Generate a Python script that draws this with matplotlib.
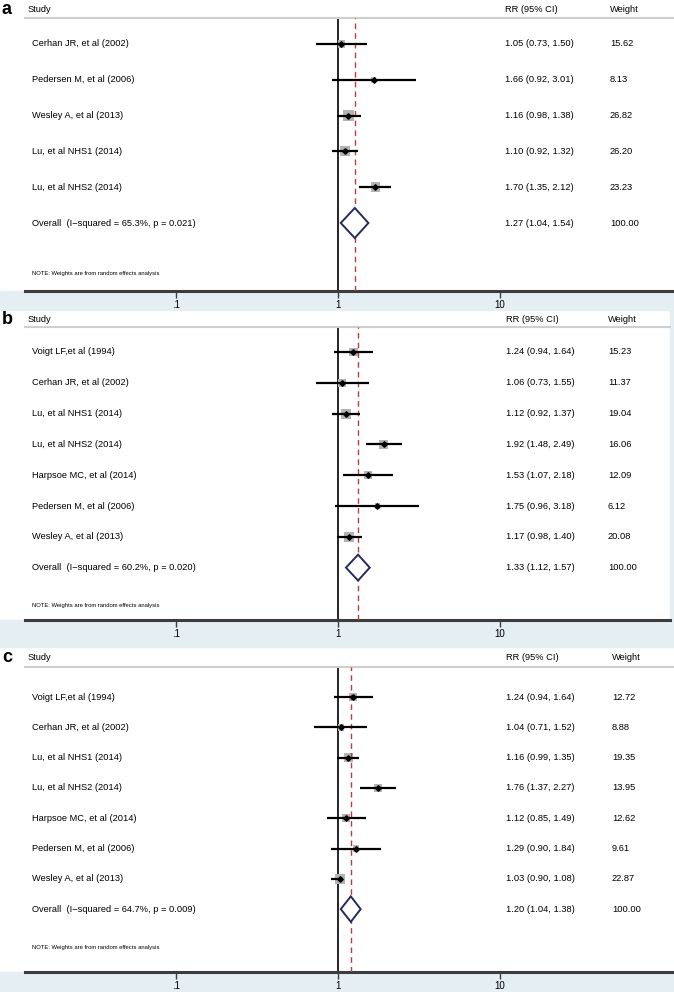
import numpy as np
import matplotlib
matplotlib.use("Agg")
import matplotlib.pyplot as plt
from matplotlib.patches import Rectangle, Polygon

plt.rcParams['font.family'] = ['Liberation Sans', 'DejaVu Sans']

# ---- data ----
studies_a = ["Cerhan JR, et al (2002)", "Pedersen M, et al (2006)", "Wesley A, et al (2013)",
             "Lu, et al NHS1 (2014)", "Lu, et al NHS2 (2014)"]
rr_a = [1.05, 1.66, 1.16, 1.10, 1.70]
lo_a = [0.73, 0.92, 0.98, 0.92, 1.35]
hi_a = [1.50, 3.01, 1.38, 1.32, 2.12]
w_a = [15.62, 8.13, 26.82, 26.20, 23.23]
overall_a = [1.27, 1.04, 1.54]
het_a = "Overall  (I\u2212squared = 65.3%, p = 0.021)"

studies_bc = ["Voigt LF,et al (1994)", "Cerhan JR, et al (2002)", "Lu, et al NHS1 (2014)",
              "Lu, et al NHS2 (2014)", "Harpsoe MC, et al (2014)", "Pedersen M, et al (2006)",
              "Wesley A, et al (2013)"]
rr_b = [1.24, 1.06, 1.12, 1.92, 1.53, 1.75, 1.17]
lo_b = [0.94, 0.73, 0.92, 1.48, 1.07, 0.96, 0.98]
hi_b = [1.64, 1.55, 1.37, 2.49, 2.18, 3.18, 1.40]
w_b = [15.23, 11.37, 19.04, 16.06, 12.09, 6.12, 20.08]
overall_b = [1.33, 1.12, 1.57]
het_b = "Overall  (I\u2212squared = 60.2%, p = 0.020)"

rr_c = [1.24, 1.04, 1.16, 1.76, 1.12, 1.29, 1.03]
lo_c = [0.94, 0.71, 0.99, 1.37, 0.85, 0.90, 0.90]
hi_c = [1.64, 1.52, 1.35, 2.27, 1.49, 1.84, 1.08]
w_c = [12.72, 8.88, 19.35, 13.95, 12.62, 9.61, 22.87]
overall_c = [1.20, 1.04, 1.38]
het_c = "Overall  (I\u2212squared = 64.7%, p = 0.009)"

tick_vals = [0.1, 1, 10]
tick_labels = [".1", "1", "10"]

W, H = 674, 992
BAND = '#e4eef3'
fig = plt.figure(figsize=(W / 100, H / 100), dpi=100)

# pixel helpers
fx = lambda x: x / W
fy = lambda y: 1 - y / H

X0 = 25               # left end of the axis, px
XONE, DEC = 338, 162  # px of RR=1, px per decade


def panel(letter, studies, rr, lo, hi, w, overall, het, lay):
    head, top, row0, step, note_y, axis_y, band_end, right, rrx, wx = lay
    n = len(studies)
    rows = row0 + step * np.arange(n + 1)

    fig.patches.append(Rectangle((fx(0), fy(band_end)), 1, (band_end - axis_y) / H,
                                 transform=fig.transFigure, color=BAND, zorder=-1))
    ax = fig.add_axes([fx(X0), fy(axis_y), (right - X0) / W, (axis_y - top) / H])
    ax.set_facecolor('none')
    ax.set_xscale('log')
    ax.set_xlim(10 ** ((X0 - XONE) / DEC), 10 ** ((right - XONE) / DEC))
    ax.set_ylim(axis_y, top)
    for s in ['left', 'right']:
        ax.spines[s].set_visible(False)
    ax.spines['top'].set_color('#cfcfcf')
    ax.spines['top'].set_linewidth(1.5)
    ax.spines['bottom'].set_color('#3c3c3c')
    ax.spines['bottom'].set_linewidth(2.2)
    ax.set_yticks([])
    ax.set_xticks(tick_vals)
    ax.set_xticklabels(tick_labels)
    ax.xaxis.set_minor_locator(matplotlib.ticker.NullLocator())
    ax.tick_params(axis='x', direction='out', length=5, width=1, color='#3c3c3c',
                   labelsize=7, pad=1.5)

    ax.axvline(1, color='black', lw=1.2, zorder=2)
    ax.axvline(overall[0], color='#b5403a', lw=1, ls=(0, (4, 3)), zorder=4)

    sq = 7.4 * np.sqrt(np.array(w) / max(w))
    ax.scatter(rr, rows[:n], s=sq ** 2, marker='s', color='#b3b3b3', lw=0, zorder=3)
    ax.hlines(rows[:n], lo, hi, color='black', lw=1.6, zorder=5)
    ax.plot(rr, rows[:n], 'D', ms=2.8, color='black', zorder=6)

    yo = rows[n]
    hh = 0.42 * step
    ax.add_patch(Polygon([(overall[1], yo), (overall[0], yo - hh), (overall[2], yo),
                          (overall[0], yo + hh)], closed=True, facecolor='white',
                         edgecolor='#252a5f', lw=1.4, zorder=5))

    fs = 6.7
    fig.text(fx(2), fy(head), letter, fontsize=13, fontweight='bold', va='center')
    fig.text(fx(28), fy(head), "Study", fontsize=fs, va='center')
    fig.text(fx(rrx), fy(head), "RR (95% CI)", fontsize=fs, va='center')
    fig.text(fx(wx), fy(head), "Weight", fontsize=fs, va='center')
    labels = studies + [het]
    rrs = rr + [overall[0]]
    los = lo + [overall[1]]
    his = hi + [overall[2]]
    ws = w + [100.0]
    for i in range(n + 1):
        fig.text(fx(32), fy(rows[i]), labels[i], fontsize=fs, va='center')
        fig.text(fx(rrx), fy(rows[i]), f"{rrs[i]:.2f} ({los[i]:.2f}, {his[i]:.2f})",
                 fontsize=fs, va='center')
        fig.text(fx(wx), fy(rows[i]), f"{ws[i]:.2f}", fontsize=fs, va='center')
    fig.text(fx(32), fy(note_y), "NOTE: Weights are from random effects analysis",
             fontsize=4.2, va='center')
    return ax


# head, top, first row, row step, note, axis, band end, right edge, RR col, weight col
panel("a", studies_a, rr_a, lo_a, hi_a, w_a, overall_a, het_a,
      (9, 18, 44, 35.8, 274, 291, 310, 674, 505, 610))
panel("b", studies_bc, rr_b, lo_b, hi_b, w_b, overall_b, het_b,
      (319, 327, 352, 30.8, 606, 620, 647, 670, 506, 608))
panel("c", studies_bc, rr_c, lo_c, hi_c, w_c, overall_c, het_c,
      (658, 667, 697, 30.3, 948, 972, 992, 674, 506, 612))

# light strip on the right of panel b
fig.patches.append(Rectangle((fx(670), fy(620)), 4 / W, (620 - 310) / H,
                             transform=fig.transFigure, color=BAND, zorder=-1))

fig.savefig("out.png", dpi=100)
